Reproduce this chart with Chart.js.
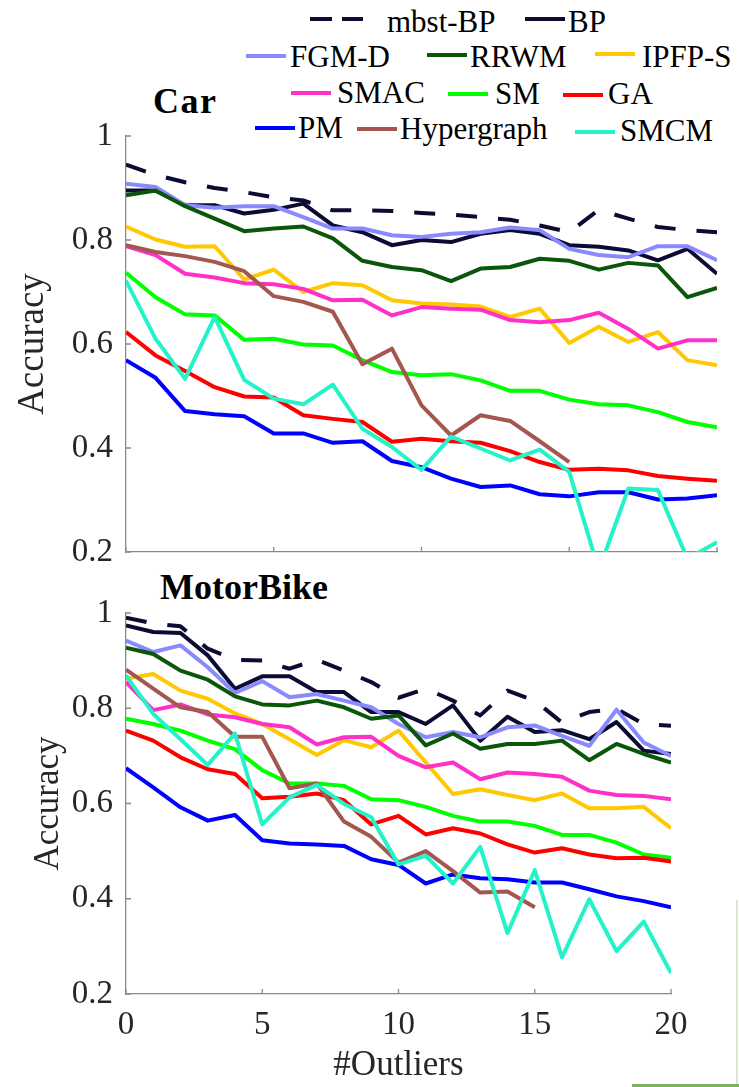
<!DOCTYPE html>
<html>
<head>
<meta charset="utf-8">
<script src="https://cdn.jsdelivr.net/npm/chart.js@4.4.1/dist/chart.umd.min.js"></script>
<style>
    body { margin: 0; background: #fff; }
    canvas { position: absolute; left: 0; }
    .ttl { position: absolute; font-weight: bold; font-size: 36px; line-height: 1; color: #000; white-space: nowrap; }
    .lg-text { position: absolute; font-size: 31px; line-height: 1; color: #000; white-space: nowrap; }
    .lg-line { position: absolute; height: 4px; }
    .edge { position: absolute; }
</style>
</head>
<body>
<div class="ttl" style="font-family:'Liberation Serif' !important; left:153px; top:83px; letter-spacing:1.5px;">Car</div>
<div class="ttl" style="font-family:'Liberation Serif' !important; left:160px; top:569px;">MotorBike</div>
<div id="legend"></div>
<canvas id="carChart" width="739" height="592" style="top:0"></canvas>
<canvas id="bikeChart" width="739" height="527" style="top:560px"></canvas>
<div class="edge" style="left:736px; top:900px; width:2px; height:187px; background:#d6e8cc;"></div>
<div class="edge" style="left:632px; top:1084px; width:107px; height:3px; background:#7cb35c;"></div>

<script>
// ===== DATA =====
const outliers = [0, 1, 2, 3, 4, 5, 6, 7, 8, 9, 10, 11, 12, 13, 14, 15, 16, 17, 18, 19, 20];
const yTicks = [0.2, 0.4, 0.6, 0.8, 1];
const xTicks = [0, 5, 10, 15, 20];

const methods = ['mbst-BP', 'BP', 'FGM-D', 'RRWM', 'IPFP-S', 'SMAC', 'SM', 'GA', 'PM', 'Hypergraph', 'SMCM'];

// Car
const carMbstBP = [0.945, 0.925, 0.911, 0.900, 0.892, 0.882, 0.876, 0.857, 0.857, 0.856, 0.852, 0.849, 0.844, 0.839, 0.828, 0.815, 0.858, 0.841, 0.825, 0.819, 0.815];
const carBP     = [0.895, 0.895, 0.867, 0.867, 0.851, 0.858, 0.870, 0.828, 0.815, 0.790, 0.800, 0.796, 0.812, 0.819, 0.812, 0.790, 0.787, 0.780, 0.761, 0.783, 0.735];
const carFGMD   = [0.908, 0.902, 0.867, 0.862, 0.865, 0.865, 0.844, 0.822, 0.822, 0.809, 0.806, 0.812, 0.815, 0.824, 0.819, 0.783, 0.771, 0.767, 0.788, 0.788, 0.761];
const carRRWM   = [0.886, 0.895, 0.865, 0.841, 0.817, 0.822, 0.826, 0.803, 0.760, 0.748, 0.742, 0.721, 0.745, 0.748, 0.764, 0.760, 0.743, 0.756, 0.751, 0.690, 0.708];
const carIPFPS  = [0.826, 0.801, 0.787, 0.788, 0.724, 0.743, 0.700, 0.717, 0.713, 0.684, 0.678, 0.676, 0.672, 0.652, 0.668, 0.602, 0.633, 0.604, 0.623, 0.569, 0.559];
const carSMAC   = [0.788, 0.771, 0.735, 0.728, 0.717, 0.715, 0.706, 0.684, 0.685, 0.655, 0.671, 0.668, 0.666, 0.646, 0.642, 0.646, 0.660, 0.629, 0.591, 0.607, 0.607];
const carSM     = [0.737, 0.690, 0.657, 0.655, 0.608, 0.610, 0.599, 0.597, 0.569, 0.546, 0.540, 0.542, 0.530, 0.510, 0.510, 0.493, 0.484, 0.482, 0.469, 0.450, 0.440];
const carGA     = [0.623, 0.578, 0.548, 0.517, 0.499, 0.497, 0.463, 0.456, 0.450, 0.412, 0.418, 0.413, 0.410, 0.394, 0.373, 0.358, 0.360, 0.357, 0.346, 0.341, 0.337];
const carPM     = [0.569, 0.535, 0.471, 0.465, 0.461, 0.428, 0.428, 0.410, 0.413, 0.375, 0.363, 0.341, 0.325, 0.328, 0.311, 0.307, 0.315, 0.315, 0.301, 0.303, 0.309];
const carHyper  = [0.790, 0.777, 0.769, 0.758, 0.740, 0.692, 0.681, 0.662, 0.561, 0.591, 0.482, 0.424, 0.463, 0.452, 0.413, 0.373];
const carSMCM   = [0.722, 0.610, 0.533, 0.652, 0.531, 0.495, 0.484, 0.522, 0.437, 0.402, 0.358, 0.422, 0.399, 0.376, 0.397, 0.354, 0.165, 0.322, 0.319, 0.187, 0.219];

// MotorBike
const bikeMbstBP = [0.990, 0.978, 0.972, 0.925, 0.902, 0.900, 0.883, 0.902, 0.879, 0.855, 0.822, 0.841, 0.816, 0.785, 0.837, 0.816, 0.770, 0.792, 0.799, 0.767, 0.763];
const bikeBP     = [0.974, 0.960, 0.958, 0.911, 0.841, 0.867, 0.867, 0.834, 0.834, 0.792, 0.792, 0.767, 0.806, 0.732, 0.782, 0.750, 0.754, 0.735, 0.771, 0.711, 0.704];
const bikeFGMD   = [0.942, 0.918, 0.932, 0.886, 0.832, 0.857, 0.823, 0.830, 0.816, 0.802, 0.767, 0.739, 0.750, 0.739, 0.760, 0.764, 0.742, 0.721, 0.797, 0.728, 0.700];
const bikeRRWM   = [0.927, 0.914, 0.879, 0.860, 0.825, 0.808, 0.806, 0.816, 0.802, 0.778, 0.785, 0.722, 0.747, 0.715, 0.725, 0.725, 0.732, 0.691, 0.725, 0.704, 0.686];
const bikeIPFPS  = [0.862, 0.872, 0.837, 0.820, 0.789, 0.767, 0.735, 0.702, 0.733, 0.718, 0.753, 0.686, 0.620, 0.630, 0.618, 0.607, 0.621, 0.590, 0.590, 0.593, 0.548];
const bikeSMAC   = [0.855, 0.796, 0.808, 0.787, 0.781, 0.767, 0.760, 0.724, 0.739, 0.740, 0.700, 0.676, 0.686, 0.651, 0.665, 0.662, 0.656, 0.627, 0.618, 0.616, 0.609];
const bikeSM     = [0.778, 0.767, 0.753, 0.732, 0.714, 0.670, 0.642, 0.642, 0.637, 0.609, 0.607, 0.593, 0.574, 0.562, 0.562, 0.553, 0.534, 0.534, 0.518, 0.493, 0.486];
const bikeGA     = [0.753, 0.732, 0.697, 0.672, 0.662, 0.611, 0.614, 0.621, 0.607, 0.556, 0.574, 0.535, 0.548, 0.537, 0.514, 0.497, 0.506, 0.493, 0.485, 0.486, 0.478];
const bikePM     = [0.674, 0.634, 0.592, 0.564, 0.576, 0.523, 0.516, 0.514, 0.511, 0.483, 0.471, 0.432, 0.451, 0.443, 0.441, 0.434, 0.434, 0.420, 0.405, 0.395, 0.382];
const bikeHyper  = [0.881, 0.841, 0.802, 0.792, 0.740, 0.740, 0.632, 0.642, 0.562, 0.530, 0.476, 0.500, 0.458, 0.413, 0.415, 0.382];
const bikeSMCM   = [0.869, 0.788, 0.735, 0.681, 0.747, 0.556, 0.613, 0.639, 0.599, 0.571, 0.472, 0.490, 0.432, 0.509, 0.328, 0.460, 0.277, 0.399, 0.290, 0.352, 0.244];

// ===== STYLE =====
const COLORS = ['#0b0b33', '#0b0b33', '#8a8aff', '#0a560a', '#ffc800', '#ff30c8', '#00ff00', '#ff0000', '#0000ff', '#a3574f', '#24f2c8'];
const SERIF = "'Liberation Serif'";
const AXIS_GRAY = '#8a8a8a';
const TEXT_GRAY = '#262626';

Chart.defaults.font.family = SERIF;

// MATLAB-style tick marks pointing into the plot
const innerTicks = {
    id: 'innerTicks',
    beforeDatasetsDraw(chart) {
        const { ctx, chartArea, scales: { x, y } } = chart;
        ctx.save();
        ctx.strokeStyle = AXIS_GRAY;
        ctx.lineWidth = 1.3;
        ctx.beginPath();
        x.ticks.forEach(t => {
            const px = x.getPixelForValue(t.value);
            ctx.moveTo(px, chartArea.bottom);
            ctx.lineTo(px, chartArea.bottom - 5);
        });
        y.ticks.forEach(t => {
            const py = y.getPixelForValue(t.value);
            ctx.moveTo(chartArea.left, py);
            ctx.lineTo(chartArea.left + 5, py);
        });
        ctx.stroke();
        ctx.restore();
    }
};

function makeDatasets(series) {
    return series.map((vals, i) => ({
        label: methods[i],
        data: vals.map((v, k) => ({ x: outliers[k], y: v })),
        borderColor: COLORS[i],
        borderWidth: 4,
        borderDash: i === 0 ? [21, 21] : [],
        borderJoinStyle: 'round',
        pointRadius: 0,
        fill: false,
        tension: 0,
        order: series.length - i   // later methods drawn on top
    }));
}

function makeChart(id, series, o) {
    const ctx = document.getElementById(id).getContext('2d');
    return new Chart(ctx, {
        type: 'line',
        data: { datasets: makeDatasets(series) },
        plugins: [innerTicks],
        options: {
            responsive: false,
            animation: false,
            devicePixelRatio: 1,
            layout: { padding: { top: o.padTop, right: o.padRight, left: 0, bottom: 0 } },
            plugins: { legend: { display: false }, tooltip: { enabled: false } },
            scales: {
                x: {
                    type: 'linear',
                    min: 0, max: 20,
                    afterBuildTicks: s => { s.ticks = xTicks.map(v => ({ value: v })); },
                    grid: { display: false, drawTicks: false },
                    border: { display: true, color: AXIS_GRAY, width: 1.3 },
                    ticks: {
                        display: o.showX,
                        padding: 12,
                        color: TEXT_GRAY,
                        font: { family: SERIF, size: 33 }
                    },
                    title: {
                        display: o.showX,
                        text: '#Outliers',
                        color: TEXT_GRAY,
                        padding: { top: 0, bottom: 0 },
                        font: { family: SERIF, size: 35 }
                    },
                    afterFit: s => { s.height = o.xHeight; }
                },
                y: {
                    min: 0.2, max: 1,
                    afterBuildTicks: s => { s.ticks = yTicks.map(v => ({ value: v })); },
                    grid: { display: false, drawTicks: false },
                    border: { display: true, color: AXIS_GRAY, width: 1.3 },
                    ticks: {
                        padding: 13,
                        color: TEXT_GRAY,
                        font: { family: SERIF, size: 33 },
                        callback: v => (v === 1 ? '1' : v.toFixed(1))
                    },
                    title: {
                        display: true,
                        text: 'Accuracy',
                        color: TEXT_GRAY,
                        padding: { top: o.yTitlePad, bottom: 0 },
                        font: { family: SERIF, size: o.yTitleSize }
                    },
                    afterFit: s => { s.width = 126; }
                }
            }
        }
    });
}

makeChart('carChart',
    [carMbstBP, carBP, carFGMD, carRRWM, carIPFPS, carSMAC, carSM, carGA, carPM, carHyper, carSMCM],
    { padTop: 136, padRight: 22, xHeight: 40, showX: false, yTitlePad: 11, yTitleSize: 37 });

makeChart('bikeChart',
    [bikeMbstBP, bikeBP, bikeFGMD, bikeRRWM, bikeIPFPS, bikeSMAC, bikeSM, bikeGA, bikePM, bikeHyper, bikeSMCM],
    { padTop: 53, padRight: 68, xHeight: 93, showX: true, yTitlePad: 28, yTitleSize: 35 });

// ===== LEGEND (four rows above the Car panel) =====
// [lineLeft, lineWidth, lineCenterY, textLeft, textBaseline]
const legendSlots = [
    [310, 53, 19, 387, 32],
    [525, 40, 19, 568, 32],
    [246, 40, 56, 290, 67],
    [427, 40, 55, 470, 67],
    [595, 40, 54, 642, 67],
    [291, 40, 93, 337, 103],
    [448, 40, 94, 495, 104],
    [563, 40, 95, 608, 104],
    [255, 40, 128, 298, 138],
    [357, 40, 129, 400, 139],
    [575, 40, 132, 620, 141]
];

const legendEl = document.getElementById('legend');
methods.forEach((name, i) => {
    const [lx, lw, ly, tx, tb] = legendSlots[i];
    const line = document.createElement('div');
    line.className = 'lg-line';
    line.style.left = lx + 'px';
    line.style.top = (ly - 2) + 'px';
    line.style.width = lw + 'px';
    line.style.background = i === 0
        ? `linear-gradient(90deg, ${COLORS[i]} 0 22px, transparent 22px 32px, ${COLORS[i]} 32px)`
        : COLORS[i];
    legendEl.appendChild(line);

    const txt = document.createElement('div');
    txt.className = 'lg-text';
    txt.style.setProperty('font-family', SERIF, 'important');
    txt.style.left = tx + 'px';
    txt.style.top = (tb - 26) + 'px';
    txt.textContent = name;
    legendEl.appendChild(txt);
});
</script>
</body>
</html>
